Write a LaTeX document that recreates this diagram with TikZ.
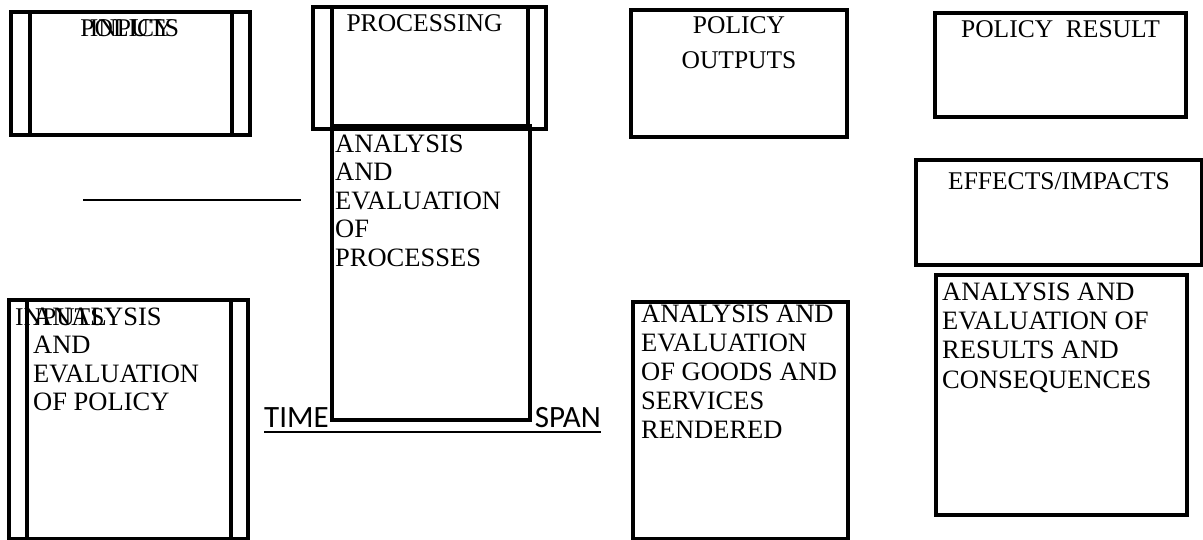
\documentclass[tikz,border=0pt]{standalone}
\usepackage{fontspec}
\setmainfont{Liberation Serif}
\newfontfamily\spanfont{Carlito}
\usetikzlibrary{calc}
\tikzset{
	boxframe/.style={draw, line width=3.2pt, inner sep=0pt, outer sep=0pt, anchor=north west},
	boxtitle/.style={font=\fontsize{25.5}{35}\selectfont, inner sep=0pt, align=center},
	boxtext/.style={font=\fontsize{26.5}{28.5}\selectfont, inner sep=0pt, align=left},
}
\begin{document}
\begin{tikzpicture}[x=1pt, y=-1pt, line join=miter, line cap=rect]
				\useasboundingbox (0,0) rectangle (1203,540);
				% Khung
				\node[boxframe, minimum width=239pt, minimum height=123pt] (inputbox) at (11,12) {};
				\node[boxframe, minimum width=233pt, minimum height=122pt] (procbox) at (313,7) {};
				\node[boxframe, minimum width=198pt, minimum height=294pt] (procanalysis) at (332,126) {};
				\node[boxframe, minimum width=216pt, minimum height=127pt] (outputbox) at (631,10) {};
				\node[boxframe, minimum width=251pt, minimum height=104pt] (resultbox) at (935,13) {};
				\node[boxframe, minimum width=286pt, minimum height=105pt] (effectbox) at (916,160) {};
				\node[boxframe, minimum width=251pt, minimum height=240pt] (resultanalysis) at (936,275) {};
				\node[boxframe, minimum width=215pt, minimum height=237pt] (goodsanalysis) at (633,302) {};
				\node[boxframe, minimum width=239pt, minimum height=239pt] (policyanalysis) at (9,300) {};
				% Vạch dọc bên trong
				\foreach \b/\l/\r in {inputbox/19/18, procbox/19/18, policyanalysis/18/17}
				\draw[line width=3.2pt] ($(\b.north west)+(\l,0)$)--($(\b.south west)+(\l,0)$)
				($(\b.north east)+(-\r,0)$)--($(\b.south east)+(-\r,0)$);
				% Chữ
				\node[boxtitle, anchor=base] (inputtitle) at ($(inputbox.north)+(4,25)$) {INPUTS};
				\node[boxtitle, anchor=base] (policytitle) at ($(inputbox.north)+(-4,25)$) {POLICY};
				\node[boxtitle, anchor=base] (proctitle) at ($(procbox.north)+(-5,25)$) {PROCESSING};
				\node[boxtext, anchor=north west] (proctext) at ($(procanalysis.north west)+(3,8.6)$)
				{ANALYSIS\\AND\\EVALUATION\\OF\\PROCESSES};
				\node[boxtitle, anchor=north] (outputtitle) at ($(outputbox.north)+(0,6)$) {POLICY\\OUTPUTS};
				\node[boxtitle, anchor=base] (resulttitle) at ($(resultbox.north)+(0,25)$) {POLICY\ \ RESULT};
				\node[boxtitle, anchor=base] (effecttitle) at ($(effectbox.north)+(0,30)$) {EFFECTS/IMPACTS};
				\node[boxtext, anchor=north west, font=\fontsize{26.5}{29.3}\selectfont] (resulttext)
				at ($(resultanalysis.north west)+(6,7.6)$) {ANALYSIS AND\\EVALUATION OF\\RESULTS AND\\CONSEQUENCES};
				\node[boxtext, anchor=north west, font=\fontsize{26.5}{29}\selectfont] (goodstext)
				at ($(goodsanalysis.north west)+(8,3)$) {ANALYSIS AND\\EVALUATION\\OF GOODS AND\\SERVICES\\RENDERED};
				\node[boxtitle, anchor=base west] (inputlabel) at ($(policyanalysis.north west)+(6,25)$) {INPUTS};
				\node[boxtext, anchor=north west] (policytext) at ($(policyanalysis.north west)+(24,7.6)$)
				{ANALYSIS\\AND\\EVALUATION\\OF POLICY};
				% Đường kẻ
				\coordinate (rulestart) at (83,200);
				\coordinate (ruleend) at (301,200);
				\draw[line width=2.6pt, line cap=butt] (rulestart)--(ruleend);
				\node[inner sep=0pt, anchor=base west, font=\spanfont\fontsize{31}{36}\selectfont] (timelabel) at (264,427) {TIME};
				\node[inner sep=0pt, anchor=base east, font=\spanfont\fontsize{31}{36}\selectfont] (spanlabel) at (601,427) {SPAN};
				\coordinate (spanstart) at (264,432);
				\coordinate (spanend) at (601,432);
				\draw[line width=2.2pt, line cap=butt] (spanstart)--(spanend);
\end{tikzpicture}
\end{document}
